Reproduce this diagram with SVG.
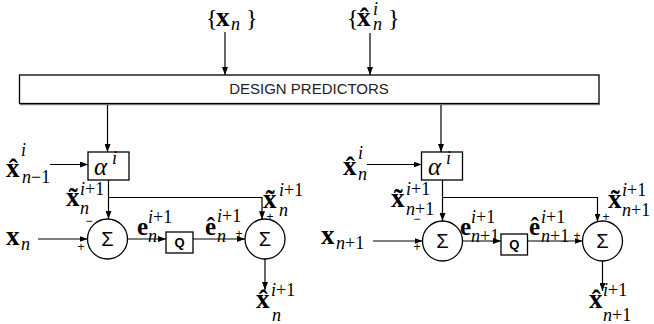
<svg xmlns="http://www.w3.org/2000/svg" width="654" height="324" viewBox="0 0 654 324">
<style>
.ln{stroke:#000;stroke-width:1.2;fill:none}
.bx{stroke:#000;stroke-width:1.3;fill:#fff}
.v{font-family:"Liberation Serif",serif;font-weight:bold;font-size:27px;fill:#000}
.ve{font-family:"Liberation Serif",serif;font-weight:bold;font-size:25px;fill:#000}
.s{font-family:"Liberation Serif",serif;font-style:italic;font-size:18px;fill:#000}
.r{font-style:normal}
.br{font-family:"Liberation Serif",serif;font-size:24px;fill:#000}
.al{font-family:"Liberation Serif",serif;font-style:italic;font-size:25px;fill:#000}
.sg{font-family:"Liberation Sans",sans-serif;font-size:20px;fill:#000;text-anchor:middle}
.q{font-family:"Liberation Sans",sans-serif;font-size:13px;font-weight:bold;fill:#000;text-anchor:middle}
.pm{font-family:"Liberation Sans",sans-serif;font-size:12px;fill:#000;text-anchor:middle}
.dp{font-family:"Liberation Sans",sans-serif;font-size:15px;fill:#222;text-anchor:middle}
</style>
<defs>
<marker id="ah" markerWidth="8" markerHeight="6" refX="8" refY="3" orient="auto" markerUnits="userSpaceOnUse">
<path d="M0,0 L8,3 L0,6 z" fill="#000"/>
</marker>
</defs>

<g id="in-xn">
<text class="br" x="206" y="26">{</text>
<text class="v" x="216" y="26">x</text>
<text class="s" x="231" y="30">n</text>
<text class="br" x="246" y="26">}</text>
</g>
<g id="in-xhat">
<text class="br" x="347" y="26">{</text>
<text class="v" x="357" y="26">x&#x302;</text>
<text class="s" x="373" y="15">i</text>
<text class="s" x="373" y="30">n</text>
<text class="br" x="388" y="26">}</text>
</g>

<g id="design">
<line x1="20" y1="104.5" x2="600" y2="104.5" stroke="#888" stroke-width="1.5"/>
<rect class="bx" x="19.5" y="75" width="579.5" height="28.5"/>
<text class="dp" x="309" y="94">DESIGN PREDICTORS</text>
</g>

<g id="alpha1">
<rect class="bx" x="88" y="152" width="41" height="28"/>
<text class="al" x="94" y="175">α</text>
<text class="s" x="112" y="164">i</text>
</g>
<g id="sum1a">
<circle class="bx" cx="107.5" cy="239" r="20"/>
<text class="sg" x="107.5" y="246">Σ</text>
</g>
<g id="q1">
<rect class="bx" x="166" y="232" width="27" height="21"/>
<text class="q" x="179.5" y="247">Q</text>
</g>
<g id="sum1b">
<circle class="bx" cx="265" cy="239" r="20"/>
<text class="sg" x="265" y="246">Σ</text>
</g>

<g id="alpha2">
<rect class="bx" x="421.5" y="152" width="41" height="28"/>
<text class="al" x="428" y="175">α</text>
<text class="s" x="446" y="164">i</text>
</g>
<g id="sum2a">
<circle class="bx" cx="442.5" cy="241" r="20"/>
<text class="sg" x="442.5" y="248">Σ</text>
</g>
<g id="q2">
<rect class="bx" x="501" y="234" width="26.5" height="21"/>
<text class="q" x="514.2" y="249">Q</text>
</g>
<g id="sum2b">
<circle class="bx" cx="602.5" cy="241" r="20"/>
<text class="sg" x="602.5" y="248">Σ</text>
</g>

<g id="connectors">
<line class="ln" x1="225" y1="32" x2="225" y2="75" marker-end="url(#ah)"/>
<line class="ln" x1="370" y1="33" x2="370" y2="75" marker-end="url(#ah)"/>
<line class="ln" x1="107.5" y1="105" x2="107.5" y2="152" marker-end="url(#ah)"/>
<line class="ln" x1="441" y1="105" x2="441" y2="152" marker-end="url(#ah)"/>
<line class="ln" x1="50" y1="164.5" x2="88" y2="164.5" marker-end="url(#ah)"/>
<line class="ln" x1="367" y1="164.5" x2="421.5" y2="164.5" marker-end="url(#ah)"/>
<line class="ln" x1="108.5" y1="180" x2="108.5" y2="219" marker-end="url(#ah)"/>
<polyline class="ln" points="108.5,197.5 262,197.5 262,219.3" marker-end="url(#ah)"/>
<line class="ln" x1="38" y1="239" x2="87.5" y2="239" marker-end="url(#ah)"/>
<line class="ln" x1="127.5" y1="239" x2="166" y2="239" marker-end="url(#ah)"/>
<line class="ln" x1="193" y1="239" x2="245" y2="239" marker-end="url(#ah)"/>
<line class="ln" x1="265" y1="259" x2="265" y2="290" marker-end="url(#ah)"/>
<line class="ln" x1="442.5" y1="180" x2="442.5" y2="221" marker-end="url(#ah)"/>
<polyline class="ln" points="442.5,197.5 597.5,197.5 597.5,221.7" marker-end="url(#ah)"/>
<line class="ln" x1="373" y1="241" x2="422.5" y2="241" marker-end="url(#ah)"/>
<line class="ln" x1="462.5" y1="241" x2="501" y2="241" marker-end="url(#ah)"/>
<line class="ln" x1="527.5" y1="241" x2="582.5" y2="241" marker-end="url(#ah)"/>
<line class="ln" x1="602.5" y1="261" x2="602.5" y2="291" marker-end="url(#ah)"/>
</g>

<g id="labels-left">
<text class="v" x="6" y="177">x&#x302;</text>
<text class="s" x="21" y="156">i</text>
<text class="s" x="22" y="183">n<tspan class="r">−1</tspan></text>

<text class="v" x="66" y="206">x&#x303;</text>
<text class="s" x="80" y="195">i<tspan class="r">+1</tspan></text>
<text class="s" x="80" y="214">n</text>

<text class="v" x="6" y="245">x</text>
<text class="s" x="21" y="250">n</text>

<text class="ve" x="137" y="235">e</text>
<text class="s" x="148" y="223">i<tspan class="r">+1</tspan></text>
<text class="s" x="148" y="242">n</text>

<text class="ve" x="205" y="235">ê</text>
<text class="s" x="217" y="222">i<tspan class="r">+1</tspan></text>
<text class="s" x="217" y="242">n</text>

<text class="v" x="263" y="208">x&#x303;</text>
<text class="s" x="279" y="196">i<tspan class="r">+1</tspan></text>
<text class="s" x="279" y="216">n</text>

<text class="v" x="256" y="308">x&#x302;</text>
<text class="s" x="271" y="296">i<tspan class="r">+1</tspan></text>
<text class="s" x="272" y="321">n</text>

<text class="pm" x="89" y="225">−</text>
<text class="pm" x="81" y="251">+</text>
<text class="pm" x="239" y="238">+</text>
<text class="pm" x="270" y="221">+</text>
</g>

<g id="labels-right">
<text class="v" x="343" y="175">x&#x302;</text>
<text class="s" x="358" y="159">i</text>
<text class="s" x="358" y="180">n</text>

<text class="v" x="391" y="207">x&#x303;</text>
<text class="s" x="406" y="195">i<tspan class="r">+1</tspan></text>
<text class="s" x="406" y="215">n<tspan class="r">+1</tspan></text>

<text class="v" x="321" y="244">x</text>
<text class="s" x="336" y="249">n<tspan class="r">+1</tspan></text>

<text class="ve" x="460" y="235">e</text>
<text class="s" x="471" y="223">i<tspan class="r">+1</tspan></text>
<text class="s" x="471" y="242">n<tspan class="r">+1</tspan></text>

<text class="ve" x="529" y="235">ê</text>
<text class="s" x="541" y="223">i<tspan class="r">+1</tspan></text>
<text class="s" x="541" y="242">n<tspan class="r">+1</tspan></text>

<text class="v" x="608" y="208">x&#x303;</text>
<text class="s" x="622" y="196">i<tspan class="r">+1</tspan></text>
<text class="s" x="622" y="216">n<tspan class="r">+1</tspan></text>

<text class="v" x="589" y="308">x&#x302;</text>
<text class="s" x="603" y="296">i<tspan class="r">+1</tspan></text>
<text class="s" x="603" y="321">n<tspan class="r">+1</tspan></text>

<text class="pm" x="417" y="223">−</text>
<text class="pm" x="417" y="251">+</text>
<text class="pm" x="577" y="240">+</text>
<text class="pm" x="606" y="221">+</text>
</g>
</svg>
